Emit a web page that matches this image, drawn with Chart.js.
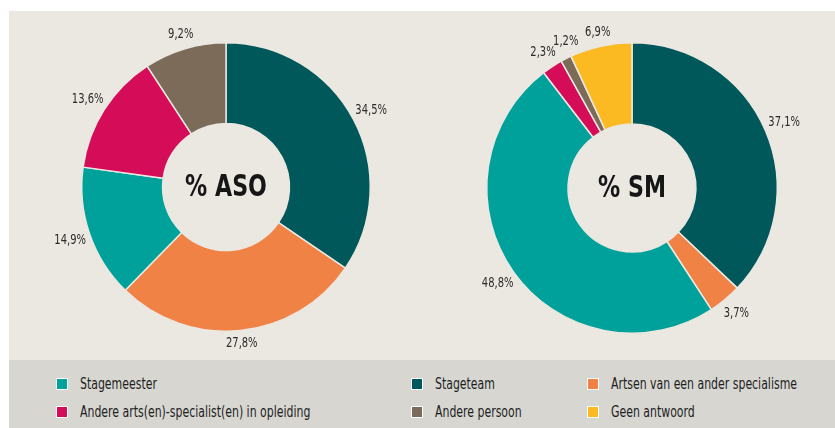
<!DOCTYPE html>
<html>
<head>
<meta charset="utf-8">
<script src="https://cdn.jsdelivr.net/npm/chart.js@4/dist/chart.umd.min.js"></script>
<style>
    body { margin: 0; background: #ffffff; width: 835px; height: 428px; overflow: hidden; position: relative; font-family: 'DejaVu Sans Condensed', sans-serif; }
    #panel { position: absolute; left: 9px; top: 11px; width: 826px; height: 349px; background: #ebe7e1; }
    #legendBand { position: absolute; left: 9px; top: 360px; width: 826px; height: 68px; background: #d7d6d1; }
    .chartBox { position: absolute; top: 11px; height: 349px; }
    .item { position: absolute; font-size: 15px; color: #1e1e1e; white-space: nowrap; line-height: 18px; }
    .item span.txt { display: inline-block; transform: scaleX(0.81); transform-origin: left center; }
    .item span.box { position: absolute; left: -24px; top: 3px; width: 10px; height: 10px; border: 1px solid #ffffff; }
</style>
</head>
<body>
<div id="panel"></div>
<div id="legendBand"></div>
<div class="chartBox" style="left:9px;width:411px"><canvas id="asoChart" width="411" height="349"></canvas></div>
<div class="chartBox" style="left:420px;width:415px"><canvas id="smChart" width="415" height="349"></canvas></div>
<div id="legend"></div>

<script>
// categories, in the order they go round the doughnut (clockwise from the top)
const categories = ['Stageteam', 'Artsen van een ander specialisme', 'Stagemeester', 'Andere arts(en)-specialist(en) in opleiding', 'Andere persoon', 'Geen antwoord']
const colors = ['#00585a', '#f08246', '#00a19a', '#d50c57', '#7d6b5a', '#fbba22']

// percentages
const asoValues = [34.5, 27.8, 14.9, 13.6, 9.2, 0]
const smValues = [37.1, 3.7, 48.8, 2.3, 1.2, 6.9]

// legend layout: [category index, left, top]
const legendOrder = [2, 0, 1, 3, 4, 5]
const legendPos = [[80, 375], [435, 375], [611, 375], [80, 403], [435, 403], [611, 403]]

const bgColor = '#ebe7e1'
const fontName = "'DejaVu Sans Condensed', sans-serif"
const squeeze = 0.82 // the original uses a narrow font
const minGap = 9 * Math.PI / 180 // keep labels of thin slices apart

function format_pct(v) {
    return v.toFixed(1).replace('.', ',') + '%'
}

function narrow_text(ctx, text, x, y) {
    ctx.save()
    ctx.translate(x, y)
    ctx.scale(squeeze, 1)
    ctx.fillText(text, 0, 0)
    ctx.restore()
}

// draws the value next to every slice and the title in the hole
const labelPlugin = {
    id: 'sliceLabels',
    afterDraw(chart, args, opts) {
        let ctx = chart.ctx
        let meta = chart.getDatasetMeta(0)
        let values = chart.data.datasets[0].data
        ctx.save()
        ctx.fillStyle = '#2b2b2b'
        ctx.font = '13.5px ' + fontName
        ctx.textAlign = 'center'
        ctx.textBaseline = 'middle'
        let prev = null
        for (let i = 0; i < meta.data.length; i++) {
            if (!values[i]) continue
            let arc = meta.data[i]
            let mid = (arc.startAngle + arc.endAngle) / 2
            if (prev !== null && mid - prev < minGap) {
                mid = prev + minGap
            }
            prev = mid
            // labels at the sides sit a bit further out (wider text)
            let r = arc.outerRadius + 12 + 9 * Math.abs(Math.cos(mid))
            let x = arc.x + Math.cos(mid) * r
            let y = arc.y + Math.sin(mid) * r
            narrow_text(ctx, format_pct(values[i]), x, y)
        }
        // title in the middle
        let first = meta.data[0]
        ctx.fillStyle = '#161616'
        ctx.font = 'bold 30px ' + fontName
        narrow_text(ctx, opts.title, first.x, first.y + 1)
        ctx.restore()
    }
}

function draw_doughnut(id, values, title, pad) {
    let ctx = document.getElementById(id).getContext('2d')
    new Chart(ctx, {
        type: 'doughnut',
        data: {
            labels: categories,
            datasets: [{
                data: values,
                backgroundColor: colors,
                borderColor: bgColor,
                borderWidth: 1.5
            }]
        },
        options: {
            responsive: false,
            animation: false,
            cutout: '44%',
            layout: { padding: pad },
            plugins: {
                legend: { display: false },
                tooltip: { enabled: false },
                sliceLabels: { title: title }
            }
        },
        plugins: [labelPlugin]
    })
}

function build_legend() {
    let html = ''
    for (let i = 0; i < legendOrder.length; i++) {
        let c = legendOrder[i]
        html += `<div class="item" style="left:${legendPos[i][0]}px;top:${legendPos[i][1]}px"><span class="box" style="background:${colors[c]}"></span><span class="txt">${categories[c]}</span></div>`
    }
    document.getElementById('legend').innerHTML = html
}

document.addEventListener('DOMContentLoaded', function () {
    draw_doughnut('asoChart', asoValues, '% ASO', { left: 72, right: 49, top: 31, bottom: 28 })
    draw_doughnut('smChart', smValues, '% SM', { left: 66, right: 57, top: 31, bottom: 26 })
    build_legend()
})
</script>
</body>
</html>
